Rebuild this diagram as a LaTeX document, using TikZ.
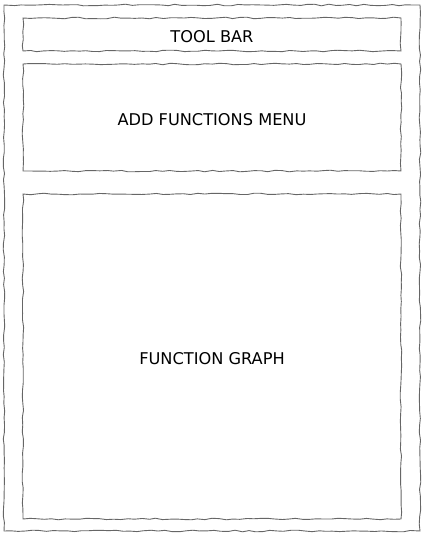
\documentclass[tikz,border=0pt]{standalone}
\usepackage{fontspec}
\setmainfont{DejaVu Sans}
\usetikzlibrary{decorations.pathmorphing}

\tikzset{
  sketch/.style={draw=black!60, line width=0.9pt, decorate,
    decoration={random steps, segment length=7pt, amplitude=0.8pt}},
  panel/.style={sketch, inner sep=0pt, text height=15.5pt, text depth=0pt,
    font=\fontsize{16.2}{18}\selectfont}
}

\begin{document}
\pgfmathsetseed{7}
\begin{tikzpicture}[x=1pt, y=-1pt]

\useasboundingbox (0,0) rectangle (432,539);

\node [panel, minimum width=416pt, minimum height=526pt] (window) at (212,268) {};
\node [panel, minimum width=378pt, minimum height=33pt] (toolbar) at (212,34.5) {TOOL BAR};
\node [panel, minimum width=378pt, minimum height=107pt] (addmenu) at (212,117.5) {ADD FUNCTIONS MENU};
\node [panel, minimum width=378pt, minimum height=325pt] (graph) at (212,356.5) {FUNCTION GRAPH};

\end{tikzpicture}
\end{document}
